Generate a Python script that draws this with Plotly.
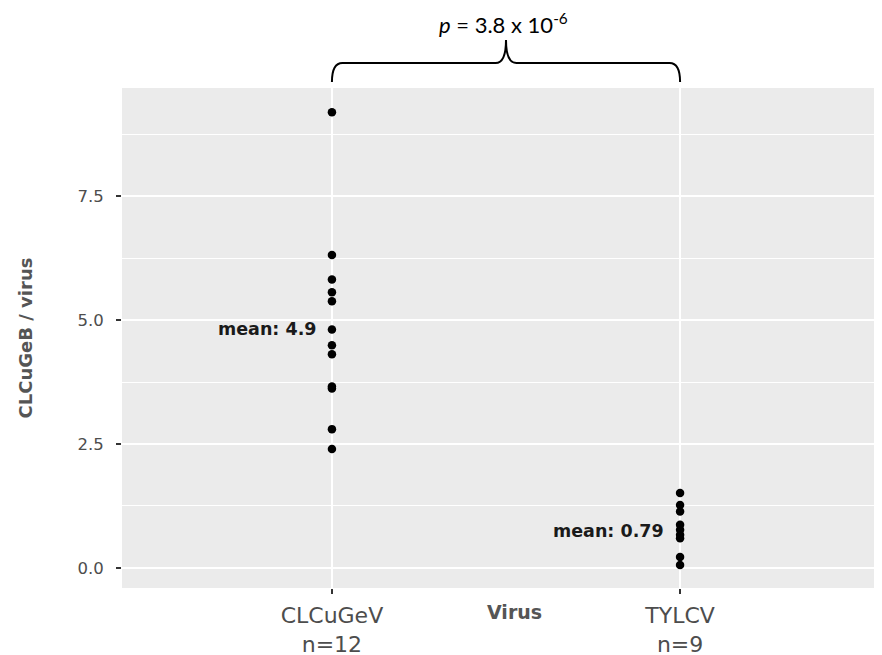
import plotly.graph_objects as go

categories = ["CLCuGeV", "TYLCV"]
tick_labels = ["CLCuGeV<br>n=12", "TYLCV<br>n=9"]
clcugev_values = [9.19, 6.31, 5.82, 5.56, 5.38, 4.81, 4.49, 4.31, 3.66, 3.62, 2.80, 2.40]
tylcv_values = [1.51, 1.27, 1.14, 0.87, 0.77, 0.67, 0.60, 0.22, 0.06]
p_value_text = "<i>p</i> = 3.8 x 10<sup>-6</sup>"
y_title = "CLCuGeB / virus"
x_title = "Virus"

series = [clcugev_values, tylcv_values]
FONT = "DejaVu Sans"

fig = go.Figure()
for cat, vals in zip(categories, series):
    fig.add_trace(go.Scatter(
        x=[cat] * len(vals), y=vals, mode="markers",
        marker=dict(color="black", size=8.5),
        showlegend=False, hoverinfo="y",
    ))

# mean labels
for cat, vals in zip(categories, series):
    m = sum(vals) / len(vals)
    fig.add_annotation(
        x=cat, y=m, xref="x", yref="y", text=f"<b>mean: {m:.2g}</b>",
        showarrow=False, xanchor="right", yanchor="middle", xshift=-14, yshift=-2,
        font=dict(family=FONT, size=17.5, color="#1a1a1a"),
    )

# brace above the plot
x0, x1 = 0, 1
xm = (x0 + x1) / 2
d = 0.03
yb, yh, yt = 1.012, 1.05, 1.096
path = (f"M {x0},{yb} Q {x0},{yh} {x0 + d},{yh} L {xm - d},{yh} "
        f"Q {xm},{yh} {xm},{yt} Q {xm},{yh} {xm + d},{yh} "
        f"L {x1 - d},{yh} Q {x1},{yh} {x1},{yb}")
fig.add_shape(type="path", path=path, xref="x", yref="paper",
              line=dict(color="black", width=2))

fig.add_annotation(
    x=xm, y=1.13, xref="x", yref="paper", text=p_value_text, showarrow=False,
    xanchor="center", yanchor="middle", xshift=-3,
    font=dict(family="Lato, Open Sans", size=22, color="black"),
)

fig.add_annotation(
    x=xm, y=-0.048, xref="x", yref="paper", text=f"<b>{x_title}</b>", showarrow=False,
    xanchor="center", yanchor="middle", xshift=8,
    font=dict(family=FONT, size=19, color="#555555"),
)

# the page adds an 8px body margin, so the figure is drawn 8px in from the corner
fig.update_layout(
    width=874, height=647,
    margin=dict(l=114, r=0, t=80, b=67),
    paper_bgcolor="white", plot_bgcolor="#EBEBEB",
    font=dict(family=FONT, color="#4D4D4D"),
)

fig.update_xaxes(
    type="category", range=[-0.603, 1.58],
    tickmode="array", tickvals=categories, ticktext=tick_labels,
    showgrid=True, gridcolor="white", gridwidth=1.6,
    ticks="outside", ticklen=5, tickwidth=1.5, tickcolor="#333333",
    tickfont=dict(family=FONT, size=22, color="#4D4D4D"), ticklabelstandoff=3,
    showline=False, zeroline=False, automargin=False,
)

fig.update_yaxes(
    range=[-0.404, 9.68], tick0=0, dtick=2.5, tickformat=".1f",
    showgrid=True, gridcolor="white", gridwidth=1.6,
    minor=dict(dtick=1.25, tick0=0, showgrid=True, gridcolor="white", gridwidth=0.8),
    ticks="outside", ticklen=5, tickwidth=1.5, tickcolor="#333333",
    tickfont=dict(family=FONT, size=16.5, color="#4D4D4D"), ticklabelstandoff=9,
    zeroline=False, showline=False, automargin=False,
    title=dict(text=f"<b>{y_title}</b>", standoff=40,
               font=dict(family=FONT, size=18, color="#555555")),
)

fig.write_html("out.html")
